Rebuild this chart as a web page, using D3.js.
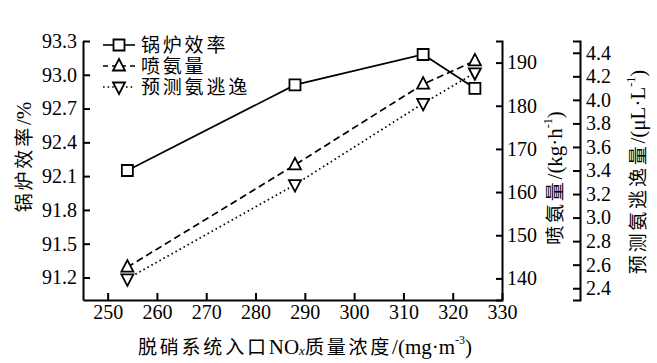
<!DOCTYPE html>
<html>
<head>
<meta charset="utf-8">
<script src="https://cdn.jsdelivr.net/npm/d3@7"></script>
<style>
  body { margin: 0; background: #fff; }
  svg { display: block; }
  text { font-family: "Liberation Serif", "Noto Sans CJK SC", serif; fill: #000; }
  .cn { font-family: "Liberation Serif", "Noto Sans CJK SC", serif; font-size: 19px; }
  .sp { letter-spacing: 2.8px; }
  .lat { font-size: 21px; }
</style>
</head>
<body>
<svg id="chart" width="657" height="363"></svg>
<script>
// data
const noxConc = [254, 288, 314, 324.5];
const boilerEff = [92.15, 92.91, 93.18, 92.88];
const ammoniaFlow = [142.6, 166.3, 185.0, 190.4];
const slipPred = [2.48, 3.28, 3.97, 4.23];

const xTicks = [250, 260, 270, 280, 290, 300, 310, 320, 330];
const effTicks = [91.2, 91.5, 91.8, 92.1, 92.4, 92.7, 93.0, 93.3];
const flowTicks = [140, 150, 160, 170, 180, 190];
const slipTicks = [2.4, 2.6, 2.8, 3.0, 3.2, 3.4, 3.6, 3.8, 4.0, 4.2, 4.4];

const legendNames = ['锅炉效率', '喷氨量', '预测氨逃逸'];

const LEFT = 83, RIGHT = 502, TOP = 41, BOTTOM = 300, SLIP_X = 580;

const svg = d3.select('#chart');

const xScale = d3.scaleLinear().domain([245, 330]).range([LEFT, RIGHT]);
const effScale = d3.scaleLinear().domain([91.0, 93.3]).range([BOTTOM, TOP]);
const flowScale = d3.scaleLinear().domain([135, 195]).range([BOTTOM, TOP]);
const slipScale = d3.scaleLinear().domain([2.3, 4.5]).range([BOTTOM, TOP]);

const styleAxis = g => {
    g.attr('font-family', null);
    g.select('.domain').attr('stroke', '#000').attr('stroke-width', 2);
    g.selectAll('.tick line').attr('stroke', '#000').attr('stroke-width', 2);
    g.selectAll('.tick text').attr('font-size', 20).attr('fill', '#000');
};

// x axis
svg.append('g')
    .attr('transform', `translate(0, ${BOTTOM})`)
    .call(d3.axisBottom(xScale).tickValues(xTicks).tickSize(-7).tickSizeOuter(0).tickPadding(5).tickFormat(d3.format('d')))
    .call(styleAxis);

// left axis
svg.append('g')
    .attr('transform', `translate(${LEFT}, 0)`)
    .call(d3.axisLeft(effScale).tickValues(effTicks).tickSize(-7).tickSizeOuter(0).tickPadding(6).tickFormat(d3.format('.1f')))
    .call(styleAxis);

// right axis, ammonia flow
svg.append('g')
    .attr('transform', `translate(${RIGHT}, 0)`)
    .call(d3.axisRight(flowScale).tickValues(flowTicks).tickSize(-6).tickSizeOuter(-6).tickPadding(5).tickFormat(d3.format('d')))
    .call(styleAxis);

// outer right axis, ammonia slip
svg.append('g')
    .attr('transform', `translate(${SLIP_X}, 0)`)
    .call(d3.axisRight(slipScale).tickValues(slipTicks).tickSize(-7).tickSizeOuter(-7).tickPadding(6).tickFormat(d3.format('.1f')))
    .call(styleAxis);

// axis titles
const addTitle = (x, y, rotate, parts) => {
    const t = svg.append('text').attr('class', 'cn')
        .attr('transform', `translate(${x}, ${y})` + (rotate ? ' rotate(-90)' : ''))
        .attr('text-anchor', 'middle').attr('dominant-baseline', 'central');
    parts.forEach(p => {
        const ts = t.append('tspan').text(p.t);
        if (p.sp) ts.attr('class', 'sp');
        else if (!p.sup && !p.sub) ts.attr('class', 'lat');
        if (p.sup) ts.attr('font-size', 12).attr('baseline-shift', '55%');
        if (p.sub) ts.attr('font-size', 13).attr('font-style', 'italic').attr('baseline-shift', '-30%');
    });
};

addTitle(24, 157, true, [{ t: '锅炉效率', sp: true }, { t: '/%' }]);
addTitle(555, 178, true, [{ t: '喷氨量', sp: true }, { t: '/(kg·h' }, { t: '-1', sup: true }, { t: ')' }]);
addTitle(638, 172, true, [{ t: '预测氨逃逸量', sp: true }, { t: '/(μL·L' }, { t: '-1', sup: true }, { t: ')' }]);
addTitle(305, 347, false, [
    { t: '脱硝系统入口', sp: true }, { t: 'NO' }, { t: 'x', sub: true },
    { t: '质量浓度', sp: true }, { t: '/(mg·m' }, { t: '-3', sup: true }, { t: ')' }
]);

// series
const series = [
    { name: legendNames[0], values: boilerEff, y: effScale, dash: null, legendDash: null, marker: 'square' },
    { name: legendNames[1], values: ammoniaFlow, y: flowScale, dash: '7,4', legendDash: '5,4', marker: 'up' },
    { name: legendNames[2], values: slipPred, y: slipScale, dash: '1.6,3', legendDash: '1.6,3', marker: 'down' }
];

const markerPath = type => {
    if (type === 'square') return 'M-5.5,-5.5H5.5V5.5H-5.5Z';
    if (type === 'up') return 'M0,-7L6,4.5H-6Z';
    return 'M0,7L6,-4.5H-6Z';
};

series.forEach(s => {
    const line = d3.line()
        .x((d, i) => xScale(noxConc[i]))
        .y(d => s.y(d));

    svg.append('path')
        .datum(s.values)
        .attr('d', line)
        .attr('fill', 'none')
        .attr('stroke', '#000')
        .attr('stroke-width', 1.7)
        .attr('stroke-dasharray', s.dash);
});

series.forEach(s => {
    svg.append('g').selectAll('path')
        .data(s.values)
        .enter()
        .append('path')
        .attr('transform', (d, i) => `translate(${xScale(noxConc[i])}, ${s.y(d)})`)
        .attr('d', markerPath(s.marker))
        .attr('fill', '#fff')
        .attr('stroke', '#000')
        .attr('stroke-width', 1.8);
});

// legend
const legend = svg.append('g');
const rowY = [45, 66, 87];
series.forEach((s, i) => {
    const row = legend.append('g').attr('transform', `translate(0, ${rowY[i]})`);
    row.append('line')
        .attr('x1', 103).attr('x2', 135).attr('y1', 0).attr('y2', 0)
        .attr('stroke', '#000').attr('stroke-width', 1.6)
        .attr('stroke-dasharray', s.legendDash);
    row.append('path')
        .attr('transform', 'translate(119, 0)')
        .attr('d', markerPath(s.marker))
        .attr('fill', '#fff').attr('stroke', '#000').attr('stroke-width', 1.8);
    row.append('text').attr('class', 'cn sp')
        .attr('x', 141).attr('y', 0)
        .attr('dominant-baseline', 'central')
        .text(s.name);
});
</script>
</body>
</html>
